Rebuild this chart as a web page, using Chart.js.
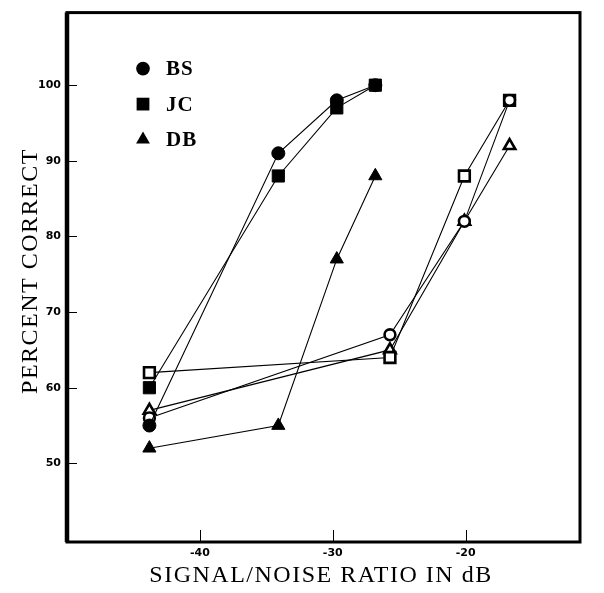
<!DOCTYPE html>
<html>
<head>
<meta charset="utf-8">
<script src="https://cdn.jsdelivr.net/npm/chart.js@4/dist/chart.umd.min.js"></script>
<style>
  html, body { margin: 0; padding: 0; background: #fff; }
  #wrap { width: 604px; height: 593px; }
</style>
</head>
<body>
<div id="wrap"><canvas id="c" width="604" height="593"></canvas></div>
<script>
// Signal/noise ratios (dB) at which each listener was tested
const snrLow  = [-43.8, -34.1, -29.7, -26.8];
const snrHigh = [-43.8, -25.7, -20.1, -16.7];

// Percent correct, filled symbols (low-S/N condition)
const bsFilled = [55, 91, 98, 100];
const jcFilled = [60, 88, 97, 100];
const dbFilled = [52, 55, 77, 88];

// Percent correct, open symbols (high-S/N condition)
const bsOpen = [56, 67, 82, 98];
const jcOpen = [62, 64, 88, 98];
const dbOpen = [57, 65, 82, 92];

// Axis ticks and labels
const xTickValues = [-40, -30, -20];
const yTickValues = [50, 60, 70, 80, 90, 100];
const xTitle = 'SIGNAL/NOISE RATIO IN dB';
const yTitle = 'PERCENT CORRECT';
const listeners = ['BS', 'JC', 'DB'];

const pts = (xs, ys) => xs.map((x, i) => ({ x: x, y: ys[i] }));

const styleOf = { BS: 'circle', JC: 'rect', DB: 'triangle' };
const filledRadius = { BS: 6.5, JC: 8.6, DB: 7.6 };
const openRadius = { BS: 5.4, JC: 7.6, DB: 6.6 };

function filledSet(name, ys) {
  return {
    label: name, data: pts(snrLow, ys), showLine: true, tension: 0,
    borderColor: '#000', borderWidth: 1.1, backgroundColor: '#000',
    pointStyle: styleOf[name], pointRadius: filledRadius[name],
    pointBackgroundColor: '#000', pointBorderColor: '#000', pointBorderWidth: 1
  };
}
function openSet(name, ys) {
  return {
    label: name + ' open', data: pts(snrHigh, ys), showLine: true, tension: 0,
    borderColor: '#000', borderWidth: 1.1, backgroundColor: '#fff',
    pointStyle: styleOf[name], pointRadius: openRadius[name],
    pointBackgroundColor: '#fff', pointBorderColor: '#000', pointBorderWidth: 2.6
  };
}

// Heavy frame around the plot plus short inward tick marks
const framePlugin = {
  id: 'frame',
  beforeDatasetsDraw(chart) {
    const { ctx, chartArea: a, scales } = chart;
    ctx.save();
    ctx.strokeStyle = '#000';
    ctx.lineWidth = 1;
    yTickValues.forEach(v => {
      const y = Math.round(scales.y.getPixelForValue(v)) + 0.5;
      ctx.beginPath(); ctx.moveTo(a.left, y); ctx.lineTo(a.left + 10, y); ctx.stroke();
    });
    xTickValues.forEach(v => {
      const x = Math.round(scales.x.getPixelForValue(v)) + 0.5;
      ctx.beginPath(); ctx.moveTo(x, a.bottom); ctx.lineTo(x, a.bottom - 12); ctx.stroke();
    });
    ctx.lineWidth = 3;
    ctx.strokeRect(a.left, a.top, a.right - a.left, a.bottom - a.top);
    ctx.lineWidth = 4.5;
    ctx.beginPath(); ctx.moveTo(a.left, a.top); ctx.lineTo(a.left, a.bottom); ctx.stroke();
    ctx.restore();
  }
};

// Symbol key in the upper-left corner of the plot
const keyPlugin = {
  id: 'key',
  afterDatasetsDraw(chart) {
    const { ctx, chartArea: a } = chart;
    ctx.save();
    ctx.fillStyle = '#000';
    ctx.strokeStyle = '#000';
    ctx.font = 'bold 21px "Liberation Serif", "DejaVu Serif", serif';
    ctx.textBaseline = 'middle';
    ctx.textAlign = 'left';
    if ('letterSpacing' in ctx) ctx.letterSpacing = '1px';
    listeners.forEach((name, i) => {
      const y = a.top + 56 + i * 35.5;
      Chart.helpers.drawPoint(ctx, {
        pointStyle: styleOf[name], radius: filledRadius[name] * 1.05, borderWidth: 0, rotation: 0
      }, a.left + 76, y);
      ctx.fillText(name, a.left + 99, y + 1);
    });
    ctx.restore();
  }
};

// Axis titles in a spaced serif face
const titlePlugin = {
  id: 'titles',
  afterDraw(chart) {
    const { ctx } = chart;
    ctx.save();
    ctx.fillStyle = '#000';
    ctx.font = '24px "Liberation Serif", "DejaVu Serif", serif';
    if ('letterSpacing' in ctx) ctx.letterSpacing = '1.5px';
    ctx.textBaseline = 'alphabetic';
    ctx.textAlign = 'left';
    const wx = ctx.measureText(xTitle).width;
    ctx.fillText(xTitle, 321 - wx / 2, 582);
    const wy = ctx.measureText(yTitle).width;
    ctx.translate(37, 271);
    ctx.rotate(-Math.PI / 2);
    ctx.fillText(yTitle, -wy / 2, 0);
    ctx.restore();
  }
};

const tickFont = { family: '"DejaVu Sans", sans-serif', weight: 'bold', size: 11 };

new Chart(document.getElementById('c'), {
  type: 'line',
  data: {
    datasets: [
      filledSet('BS', bsFilled),
      filledSet('JC', jcFilled),
      filledSet('DB', dbFilled),
      openSet('BS', bsOpen),
      openSet('JC', jcOpen),
      openSet('DB', dbOpen)
    ]
  },
  options: {
    responsive: false,
    animation: false,
    devicePixelRatio: 1,
    layout: { padding: { top: 10, right: 24, left: 0, bottom: 0 } },
    plugins: { legend: { display: false }, tooltip: { enabled: false } },
    scales: {
      x: {
        type: 'linear', min: -50, max: -11.4,
        afterBuildTicks: s => { s.ticks = xTickValues.map(v => ({ value: v })); },
        afterFit: s => { s.height = 51; },
        grid: { display: false, drawTicks: false },
        border: { display: false },
        ticks: { font: tickFont, color: '#000', padding: 5, maxRotation: 0, autoSkip: false }
      },
      y: {
        type: 'linear', min: 39.6, max: 109.6,
        afterBuildTicks: s => { s.ticks = yTickValues.map(v => ({ value: v })); },
        afterFit: s => { s.width = 67; },
        grid: { display: false, drawTicks: false },
        border: { display: false },
        ticks: { font: tickFont, color: '#000', padding: 6, autoSkip: false }
      }
    }
  },
  plugins: [framePlugin, keyPlugin, titlePlugin]
});
</script>
</body>
</html>
